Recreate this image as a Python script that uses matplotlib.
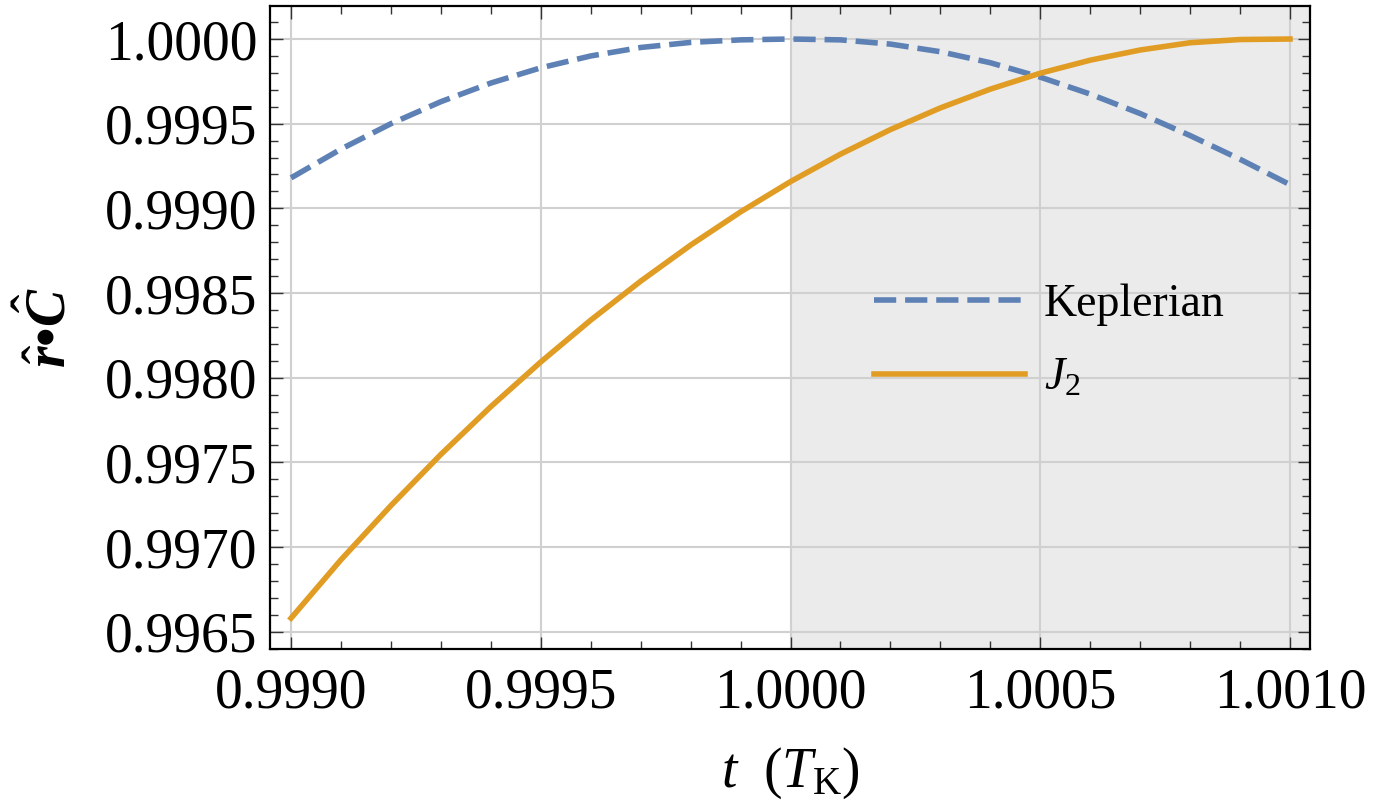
import numpy as np
import matplotlib.pyplot as plt
from matplotlib.ticker import MultipleLocator, FormatStrFormatter

# time in units of the Keplerian period
t = [0.9990, 0.9991, 0.9992, 0.9993, 0.9994, 0.9995, 0.9996, 0.9997, 0.9998, 0.9999,
     1.0000, 1.0001, 1.0002, 1.0003, 1.0004, 1.0005, 1.0006, 1.0007, 1.0008, 1.0009, 1.0010]

# r-hat . C-hat
kepler = [0.99918, 0.99935, 0.99950, 0.99963, 0.99974, 0.99983, 0.99990, 0.99995, 0.99998, 0.999995,
          1.00000, 0.999995, 0.99997, 0.999925, 0.99986, 0.999775, 0.999675, 0.99956, 0.99943, 0.99929, 0.99914]
j2 = [0.99658, 0.996925, 0.997245, 0.997547, 0.997829, 0.998093, 0.998340, 0.998570, 0.998783, 0.998979,
      0.999158, 0.999320, 0.999465, 0.999593, 0.999704, 0.999798, 0.999875, 0.999935, 0.999978, 0.999997, 1.00000]

# shaded interval starts at one period
shade_start = 1.0

# Mathematica-like colours
blue = '#5E81B5'
orange = '#E19C24'

plt.rcParams['font.family'] = 'Liberation Serif'
plt.rcParams['mathtext.fontset'] = 'custom'
plt.rcParams['mathtext.rm'] = 'Liberation Serif'
plt.rcParams['mathtext.it'] = 'Liberation Serif:italic'
plt.rcParams['mathtext.bf'] = 'Liberation Serif:bold'
plt.rcParams['mathtext.bfit'] = 'Liberation Serif:bold:italic'

fig = plt.figure(figsize=(13.85, 8.10), dpi=100)
ax = fig.add_axes([0.195, 0.1988, 0.7508, 0.7938])

xlim = (0.998958, 1.001040)
ylim = (0.996398, 1.000195)

# grey background after t = 1
ax.axvspan(shade_start, xlim[1], color='#EBEBEB', lw=0, zorder=0)

ax.plot(t, kepler, color=blue, lw=4.0, dashes=(4.0, 1.6), label='Keplerian', zorder=3)
ax.plot(t, j2, color=orange, lw=4.0, label=r'$J_2$', zorder=3)

ax.set_xlim(*xlim)
ax.set_ylim(*ylim)

# ticks and grid
ax.xaxis.set_major_locator(MultipleLocator(0.0005))
ax.xaxis.set_minor_locator(MultipleLocator(0.0001))
ax.yaxis.set_major_locator(MultipleLocator(0.0005))
ax.yaxis.set_minor_locator(MultipleLocator(0.0001))
ax.xaxis.set_major_formatter(FormatStrFormatter('%.4f'))
ax.yaxis.set_major_formatter(FormatStrFormatter('%.4f'))
ax.tick_params(which='both', direction='in', top=True, right=True, width=1.0, color='#333333')
ax.tick_params(which='major', length=9, labelsize=40, pad=9)
ax.tick_params(which='minor', length=5.5)
ax.tick_params(axis='x', which='major', pad=13)
ax.grid(True, which='major', color='#D0D0D0', lw=1.5, zorder=1)
ax.set_axisbelow(True)

for sp in ax.spines.values():
    sp.set_linewidth(1.6)
    sp.set_color('black')

ax.set_xlabel(r'$t\ \ (T_{\mathrm{K}})$', fontsize=40, labelpad=19)
ax.set_ylabel('$\\hat{\\mathbfit{r}}\\mathbf{\u2022}\\hat{\\mathbfit{C}}$', fontsize=40, labelpad=20)

leg = ax.legend(loc='center left', bbox_to_anchor=(0.5808, 0.478), frameon=False,
                fontsize=33, handlelength=3.3, handletextpad=0.4, labelspacing=0.7,
                borderpad=0, borderaxespad=0)

fig.savefig('out.png', dpi=100)
